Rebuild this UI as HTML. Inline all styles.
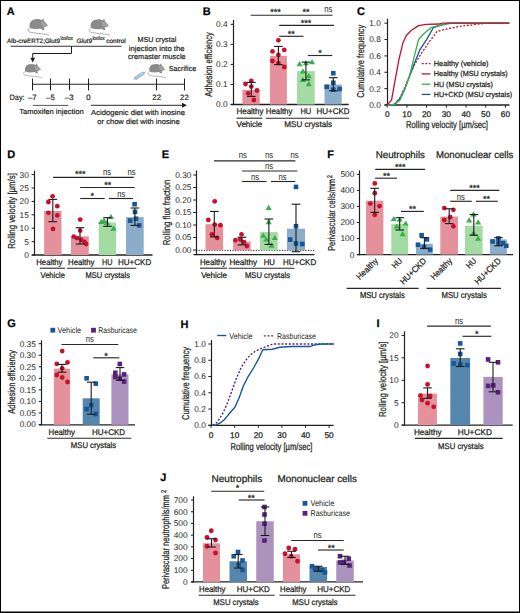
<!DOCTYPE html><html><head><meta charset="utf-8"><style>html,body{margin:0;padding:0;background:#fff;overflow:hidden}svg{display:block}</style></head><body><svg width="520" height="613" viewBox="0 0 520 613" font-family='"Liberation Sans", sans-serif' fill="#231f20">
<style>text{stroke:#231f20;stroke-width:0.25px;text-rendering:geometricPrecision}text.st,text.tk{stroke:none}.pa text{stroke-width:0.2px}</style>
<rect x="0" y="0" width="520" height="613" fill="#fff"/>
<g class="pa">
<text x="6.80" y="15.20" font-size="11" fill="#000" font-weight="bold">A</text>
<g transform="translate(24.90 14.80) scale(0.9)"><path d="M6 14.4C3.2 15.2 2.4 18.2 5.5 19.2C10 20.6 19 20.6 26.8 22.4" fill="none" stroke="#8c8c8c" stroke-width="0.8"/><path d="M5.8 14.6C4.4 11.6 5.4 7.2 9.4 5.6C13 4.3 16.6 4.6 18.8 6L19.9 4.3L20.9 4.9L21.2 6.8C22.8 8.2 24.4 10.2 25.6 12C24.8 12.9 23 13.4 21 13.8L21.8 16.4L20.4 17.1L17.4 15.2C13.6 16 9 16.2 5.8 14.6Z" fill="#8a8a8a"/><path d="M18 7.4C20 6.8 23 8.8 24.9 11.7C23.8 12.6 21.6 13.1 19.3 12.9C17.9 11.3 17.4 8.7 18 7.4Z" fill="#a0a0a0"/></g>
<g transform="translate(86.00 15.10) scale(0.89)"><path d="M6 14.4C3.2 15.2 2.4 18.2 5.5 19.2C10 20.6 19 20.6 26.8 22.4" fill="none" stroke="#8c8c8c" stroke-width="0.8"/><path d="M5.8 14.6C4.4 11.6 5.4 7.2 9.4 5.6C13 4.3 16.6 4.6 18.8 6L19.9 4.3L20.9 4.9L21.2 6.8C22.8 8.2 24.4 10.2 25.6 12C24.8 12.9 23 13.4 21 13.8L21.8 16.4L20.4 17.1L17.4 15.2C13.6 16 9 16.2 5.8 14.6Z" fill="#8a8a8a"/><path d="M18 7.4C20 6.8 23 8.8 24.9 11.7C23.8 12.6 21.6 13.1 19.3 12.9C17.9 11.3 17.4 8.7 18 7.4Z" fill="#a0a0a0"/></g>
<g transform="translate(20.90 60.20) scale(0.78)"><path d="M6 14.4C3.2 15.2 2.4 18.2 5.5 19.2C10 20.6 19 20.6 26.8 22.4" fill="none" stroke="#8c8c8c" stroke-width="0.8"/><path d="M5.8 14.6C4.4 11.6 5.4 7.2 9.4 5.6C13 4.3 16.6 4.6 18.8 6L19.9 4.3L20.9 4.9L21.2 6.8C22.8 8.2 24.4 10.2 25.6 12C24.8 12.9 23 13.4 21 13.8L21.8 16.4L20.4 17.1L17.4 15.2C13.6 16 9 16.2 5.8 14.6Z" fill="#8a8a8a"/><path d="M18 7.4C20 6.8 23 8.8 24.9 11.7C23.8 12.6 21.6 13.1 19.3 12.9C17.9 11.3 17.4 8.7 18 7.4Z" fill="#a0a0a0"/></g>
<g transform="translate(145.20 60.20) scale(0.78)"><path d="M6 14.4C3.2 15.2 2.4 18.2 5.5 19.2C10 20.6 19 20.6 26.8 22.4" fill="none" stroke="#8c8c8c" stroke-width="0.8"/><path d="M5.8 14.6C4.4 11.6 5.4 7.2 9.4 5.6C13 4.3 16.6 4.6 18.8 6L19.9 4.3L20.9 4.9L21.2 6.8C22.8 8.2 24.4 10.2 25.6 12C24.8 12.9 23 13.4 21 13.8L21.8 16.4L20.4 17.1L17.4 15.2C13.6 16 9 16.2 5.8 14.6Z" fill="#8a8a8a"/><path d="M18 7.4C20 6.8 23 8.8 24.9 11.7C23.8 12.6 21.6 13.1 19.3 12.9C17.9 11.3 17.4 8.7 18 7.4Z" fill="#a0a0a0"/></g>
<text x="7.10" y="43.40" font-size="6.3" textLength="52.90" lengthAdjust="spacingAndGlyphs">Alb-creERT2;Glut9</text>
<text x="60.60" y="40.30" font-size="5.6" textLength="12.20" lengthAdjust="spacingAndGlyphs">lox/lox</text>
<text x="76.50" y="43.40" font-size="6.3" font-style="italic" textLength="15.50" lengthAdjust="spacingAndGlyphs">Glut9</text>
<text x="92.40" y="40.30" font-size="5.6" textLength="12.20" lengthAdjust="spacingAndGlyphs">lox/lox</text>
<text x="106.20" y="43.40" font-size="6.3" textLength="19.60" lengthAdjust="spacingAndGlyphs">control</text>
<line x1="10.60" y1="46.20" x2="121.50" y2="46.20" stroke="#333" stroke-width="1.1" />
<path d="M71.5 46.2V53.5H32.7V59" fill="none" stroke="#231f20" stroke-width="1"/>
<path d="M30.3 57.8L35.1 57.8L32.7 62.4Z" fill="#231f20"/>
<text x="156.90" y="42.30" font-size="7.3" text-anchor="middle" textLength="38.80" lengthAdjust="spacingAndGlyphs">MSU crystal</text>
<text x="156.70" y="50.70" font-size="7.3" text-anchor="middle" textLength="55.80" lengthAdjust="spacingAndGlyphs">injection into the</text>
<text x="156.75" y="59.20" font-size="7.3" text-anchor="middle" textLength="57.70" lengthAdjust="spacingAndGlyphs">cremaster muscle</text>
<text x="182.50" y="71.30" font-size="7.3" text-anchor="middle" textLength="27.40" lengthAdjust="spacingAndGlyphs">Sacrifice</text>
<g transform="translate(133.6 79.6) rotate(-33)"><line x1="0" y1="0" x2="2.2" y2="0" stroke="#7f9fc2" stroke-width="0.9"/><line x1="2.2" y1="-1.8" x2="2.2" y2="1.8" stroke="#7f9fc2" stroke-width="0.8"/><rect x="2.6" y="-1.3" width="9.6" height="2.6" fill="#b8d0e8" stroke="#7f9fc2" stroke-width="0.6"/><line x1="4.5" y1="-1.3" x2="4.5" y2="0.3" stroke="#7f9fc2" stroke-width="0.4"/><line x1="6.5" y1="-1.3" x2="6.5" y2="0.3" stroke="#7f9fc2" stroke-width="0.4"/><line x1="8.5" y1="-1.3" x2="8.5" y2="0.3" stroke="#7f9fc2" stroke-width="0.4"/><line x1="12.2" y1="0" x2="14.8" y2="0" stroke="#7f9fc2" stroke-width="0.6"/></g>
<line x1="32.30" y1="84.30" x2="184.40" y2="84.30" stroke="#2a2a2a" stroke-width="1.1" />
<line x1="32.50" y1="78.50" x2="32.50" y2="90.40" stroke="#231f20" stroke-width="1" />
<line x1="50.50" y1="78.50" x2="50.50" y2="90.40" stroke="#231f20" stroke-width="1" />
<line x1="69.50" y1="78.50" x2="69.50" y2="90.40" stroke="#231f20" stroke-width="1" />
<line x1="88.50" y1="78.50" x2="88.50" y2="90.40" stroke="#231f20" stroke-width="1" />
<line x1="156.50" y1="78.50" x2="156.50" y2="90.40" stroke="#231f20" stroke-width="1" />
<line x1="184.50" y1="78.50" x2="184.50" y2="90.40" stroke="#231f20" stroke-width="1" />
<text x="9.60" y="100.00" font-size="7.8" textLength="15.00" lengthAdjust="spacingAndGlyphs">Day:</text>
<text x="32.30" y="100.00" font-size="7.8" text-anchor="middle">–7</text>
<text x="50.40" y="100.00" font-size="7.8" text-anchor="middle">–5</text>
<text x="69.20" y="100.00" font-size="7.8" text-anchor="middle">–3</text>
<text x="88.50" y="100.00" font-size="7.8" text-anchor="middle">0</text>
<text x="156.70" y="100.00" font-size="7.8" text-anchor="middle">22</text>
<text x="184.40" y="100.00" font-size="7.8" text-anchor="middle">22</text>
<line x1="32.70" y1="105.40" x2="68.30" y2="105.40" stroke="#444" stroke-width="0.9" />
<text x="51.45" y="114.40" font-size="7.3" text-anchor="middle" textLength="64.50" lengthAdjust="spacingAndGlyphs">Tamoxifen injection</text>
<line x1="91.00" y1="105.30" x2="183.00" y2="105.30" stroke="#2a2a2a" stroke-width="1" />
<path d="M182 102.8L187 105.3L182 107.8Z" fill="#231f20"/>
<text x="138.10" y="115.00" font-size="7.3" text-anchor="middle" textLength="94.00" lengthAdjust="spacingAndGlyphs">Acidogenic diet with inosine</text>
<text x="138.55" y="124.00" font-size="7.3" text-anchor="middle" textLength="82.50" lengthAdjust="spacingAndGlyphs">or chow diet with inosine</text>
</g>
<text x="202.80" y="15.40" font-size="11" fill="#000" font-weight="bold">B</text>
<line x1="233.50" y1="19.90" x2="233.50" y2="105.10" stroke="#231f20" stroke-width="1.2" />
<line x1="230.60" y1="104.50" x2="233.40" y2="104.50" stroke="#231f20" stroke-width="1" />
<text x="227.60" y="107.40" font-size="8.3" text-anchor="end" class="tk">0.0</text>
<line x1="230.60" y1="84.45" x2="233.40" y2="84.45" stroke="#231f20" stroke-width="1" />
<text x="227.60" y="87.35" font-size="8.3" text-anchor="end" class="tk">0.1</text>
<line x1="230.60" y1="64.40" x2="233.40" y2="64.40" stroke="#231f20" stroke-width="1" />
<text x="227.60" y="67.30" font-size="8.3" text-anchor="end" class="tk">0.2</text>
<line x1="230.60" y1="44.35" x2="233.40" y2="44.35" stroke="#231f20" stroke-width="1" />
<text x="227.60" y="47.25" font-size="8.3" text-anchor="end" class="tk">0.3</text>
<line x1="230.60" y1="24.30" x2="233.40" y2="24.30" stroke="#231f20" stroke-width="1" />
<text x="227.60" y="27.20" font-size="8.3" text-anchor="end" class="tk">0.4</text>
<line x1="230.80" y1="104.50" x2="348.70" y2="104.50" stroke="#231f20" stroke-width="1.35" />
<text x="212.30" y="64.50" font-size="10" text-anchor="middle" textLength="64.30" lengthAdjust="spacingAndGlyphs" transform="rotate(-90 212.30 64.50)">Adhesion efficiency</text>
<rect x="242.40" y="89.90" width="17.40" height="14.60" fill="#e5919b"/>
<rect x="269.90" y="55.80" width="17.00" height="48.70" fill="#e5919b"/>
<rect x="297.00" y="71.10" width="17.70" height="33.40" fill="#a3dba3"/>
<rect x="324.50" y="84.60" width="17.20" height="19.90" fill="#8cadca"/>
<circle cx="251.30" cy="80.90" r="2.4" fill="#c8102e"/>
<circle cx="245.50" cy="84.00" r="2.4" fill="#c8102e"/>
<circle cx="251.30" cy="86.60" r="2.4" fill="#c8102e"/>
<circle cx="257.00" cy="90.50" r="2.4" fill="#c8102e"/>
<circle cx="248.20" cy="93.30" r="2.4" fill="#c8102e"/>
<circle cx="253.90" cy="100.00" r="2.4" fill="#c8102e"/>
<circle cx="278.40" cy="40.30" r="2.4" fill="#c8102e"/>
<circle cx="272.50" cy="51.40" r="2.4" fill="#c8102e"/>
<circle cx="284.30" cy="49.90" r="2.4" fill="#c8102e"/>
<circle cx="278.40" cy="55.00" r="2.4" fill="#c8102e"/>
<circle cx="272.50" cy="61.00" r="2.4" fill="#c8102e"/>
<circle cx="278.40" cy="63.10" r="2.4" fill="#c8102e"/>
<circle cx="284.30" cy="67.00" r="2.4" fill="#c8102e"/>
<path d="M299.50 61.00L302.58 66.18L296.42 66.18Z" fill="#34b14a"/>
<path d="M305.90 60.10L308.98 65.28L302.82 65.28Z" fill="#34b14a"/>
<path d="M312.00 59.00L315.08 64.18L308.92 64.18Z" fill="#34b14a"/>
<path d="M302.90 68.30L305.98 73.48L299.82 73.48Z" fill="#34b14a"/>
<path d="M308.80 73.00L311.88 78.18L305.72 78.18Z" fill="#34b14a"/>
<path d="M302.90 76.70L305.98 81.88L299.82 81.88Z" fill="#34b14a"/>
<path d="M308.80 81.10L311.88 86.28L305.72 86.28Z" fill="#34b14a"/>
<rect x="331.00" y="70.90" width="4.60" height="4.60" fill="#175796"/>
<rect x="331.00" y="80.50" width="4.60" height="4.60" fill="#175796"/>
<rect x="324.40" y="84.50" width="4.60" height="4.60" fill="#175796"/>
<rect x="337.30" y="86.70" width="4.60" height="4.60" fill="#175796"/>
<rect x="331.00" y="87.40" width="4.60" height="4.60" fill="#175796"/>
<line x1="251.30" y1="82.40" x2="251.30" y2="96.40" stroke="#1a1a1a" stroke-width="1.1" />
<line x1="247.00" y1="82.40" x2="255.60" y2="82.40" stroke="#1a1a1a" stroke-width="1.1" />
<line x1="247.00" y1="96.40" x2="255.60" y2="96.40" stroke="#1a1a1a" stroke-width="1.1" />
<line x1="278.40" y1="46.40" x2="278.40" y2="64.60" stroke="#1a1a1a" stroke-width="1.1" />
<line x1="274.10" y1="46.40" x2="282.70" y2="46.40" stroke="#1a1a1a" stroke-width="1.1" />
<line x1="274.10" y1="64.60" x2="282.70" y2="64.60" stroke="#1a1a1a" stroke-width="1.1" />
<line x1="305.90" y1="62.10" x2="305.90" y2="79.90" stroke="#1a1a1a" stroke-width="1.1" />
<line x1="301.60" y1="62.10" x2="310.20" y2="62.10" stroke="#1a1a1a" stroke-width="1.1" />
<line x1="301.60" y1="79.90" x2="310.20" y2="79.90" stroke="#1a1a1a" stroke-width="1.1" />
<line x1="333.30" y1="77.70" x2="333.30" y2="90.80" stroke="#1a1a1a" stroke-width="1.1" />
<line x1="329.00" y1="77.70" x2="337.60" y2="77.70" stroke="#1a1a1a" stroke-width="1.1" />
<line x1="329.00" y1="90.80" x2="337.60" y2="90.80" stroke="#1a1a1a" stroke-width="1.1" />
<line x1="250.70" y1="15.20" x2="332.50" y2="15.20" stroke="#2a2a2a" stroke-width="1.15" />
<text x="275.50" y="15.05" font-size="9" text-anchor="middle">***</text>
<text x="306.10" y="15.05" font-size="9" text-anchor="middle">**</text>
<text x="328.30" y="12.32" font-size="9.4" text-anchor="middle" class="tk" textLength="8.10" lengthAdjust="spacingAndGlyphs">ns</text>
<line x1="279.20" y1="25.40" x2="334.00" y2="25.40" stroke="#2a2a2a" stroke-width="1.15" />
<text x="306.10" y="26.05" font-size="9" text-anchor="middle">***</text>
<line x1="279.20" y1="36.30" x2="303.50" y2="36.30" stroke="#2a2a2a" stroke-width="1.15" />
<text x="291.30" y="37.05" font-size="9" text-anchor="middle">**</text>
<line x1="307.90" y1="55.50" x2="332.30" y2="55.50" stroke="#2a2a2a" stroke-width="1.15" />
<text x="319.90" y="56.35" font-size="9" text-anchor="middle">*</text>
<text x="250.00" y="114.00" font-size="8.3" text-anchor="middle" textLength="27.00" lengthAdjust="spacingAndGlyphs">Healthy</text>
<text x="279.10" y="114.00" font-size="8.3" text-anchor="middle" textLength="26.60" lengthAdjust="spacingAndGlyphs">Healthy</text>
<text x="305.85" y="114.00" font-size="8.3" text-anchor="middle" textLength="10.90" lengthAdjust="spacingAndGlyphs">HU</text>
<text x="333.10" y="114.00" font-size="8.3" text-anchor="middle" textLength="33.00" lengthAdjust="spacingAndGlyphs">HU+CKD</text>
<line x1="236.50" y1="118.20" x2="262.30" y2="118.20" stroke="#2a2a2a" stroke-width="1.1" />
<line x1="265.80" y1="118.20" x2="349.20" y2="118.20" stroke="#2a2a2a" stroke-width="1.1" />
<text x="249.40" y="127.30" font-size="8.3" text-anchor="middle" textLength="25.80" lengthAdjust="spacingAndGlyphs">Vehicle</text>
<text x="308.15" y="127.30" font-size="8.3" text-anchor="middle" textLength="47.70" lengthAdjust="spacingAndGlyphs">MSU crystals</text>
<text x="356.90" y="14.80" font-size="11" fill="#000" font-weight="bold">C</text>
<line x1="387.50" y1="18.70" x2="387.50" y2="105.60" stroke="#231f20" stroke-width="1.2" />
<line x1="384.40" y1="105.00" x2="387.20" y2="105.00" stroke="#231f20" stroke-width="1" />
<text x="380.80" y="107.90" font-size="8.3" text-anchor="end" class="tk">0.0</text>
<line x1="384.40" y1="88.64" x2="387.20" y2="88.64" stroke="#231f20" stroke-width="1" />
<text x="380.80" y="91.54" font-size="8.3" text-anchor="end" class="tk">0.2</text>
<line x1="384.40" y1="72.28" x2="387.20" y2="72.28" stroke="#231f20" stroke-width="1" />
<text x="380.80" y="75.18" font-size="8.3" text-anchor="end" class="tk">0.4</text>
<line x1="384.40" y1="55.92" x2="387.20" y2="55.92" stroke="#231f20" stroke-width="1" />
<text x="380.80" y="58.82" font-size="8.3" text-anchor="end" class="tk">0.6</text>
<line x1="384.40" y1="39.56" x2="387.20" y2="39.56" stroke="#231f20" stroke-width="1" />
<text x="380.80" y="42.46" font-size="8.3" text-anchor="end" class="tk">0.8</text>
<line x1="384.40" y1="23.20" x2="387.20" y2="23.20" stroke="#231f20" stroke-width="1" />
<text x="380.80" y="26.10" font-size="8.3" text-anchor="end" class="tk">1.0</text>
<line x1="384.60" y1="105.00" x2="509.50" y2="105.00" stroke="#231f20" stroke-width="1.35" />
<line x1="387.20" y1="105.00" x2="387.20" y2="107.60" stroke="#231f20" stroke-width="1" />
<text x="387.20" y="116.70" font-size="8.3" text-anchor="middle">0</text>
<line x1="406.90" y1="105.00" x2="406.90" y2="107.60" stroke="#231f20" stroke-width="1" />
<text x="406.90" y="116.70" font-size="8.3" text-anchor="middle">10</text>
<line x1="426.60" y1="105.00" x2="426.60" y2="107.60" stroke="#231f20" stroke-width="1" />
<text x="426.60" y="116.70" font-size="8.3" text-anchor="middle">20</text>
<line x1="446.30" y1="105.00" x2="446.30" y2="107.60" stroke="#231f20" stroke-width="1" />
<text x="446.30" y="116.70" font-size="8.3" text-anchor="middle">30</text>
<line x1="466.00" y1="105.00" x2="466.00" y2="107.60" stroke="#231f20" stroke-width="1" />
<text x="466.00" y="116.70" font-size="8.3" text-anchor="middle">40</text>
<line x1="485.70" y1="105.00" x2="485.70" y2="107.60" stroke="#231f20" stroke-width="1" />
<text x="485.70" y="116.70" font-size="8.3" text-anchor="middle">50</text>
<line x1="505.40" y1="105.00" x2="505.40" y2="107.60" stroke="#231f20" stroke-width="1" />
<text x="505.40" y="116.70" font-size="8.3" text-anchor="middle">60</text>
<text x="447.05" y="128.30" font-size="10" text-anchor="middle" textLength="81.90" lengthAdjust="spacingAndGlyphs">Rolling velocity [µm/sec]</text>
<text x="364.50" y="61.30" font-size="10" text-anchor="middle" textLength="72.90" lengthAdjust="spacingAndGlyphs" transform="rotate(-90 364.50 61.30)">Cumulative frequency</text>
<path d="M387.20 105.00 L391.14 105.00 L395.08 103.36 L400.00 97.64 L404.93 87.00 L409.86 74.73 L414.78 64.10 L421.08 53.88 L428.57 42.83 L437.04 31.38 L446.89 28.93 L459.11 26.47 L478.81 24.02 L485.70 23.20 L509.34 23.20" fill="none" stroke="#c8102e" stroke-width="1.3" stroke-linejoin="round" stroke-dasharray="2 1.6"/>
<path d="M387.20 105.00 L392.12 105.00 L395.08 104.18 L400.00 98.46 L404.93 88.64 L409.86 75.55 L414.78 62.46 L419.70 50.19 L426.60 39.56 L433.30 27.70 L439.40 25.65 L448.27 23.20 L509.34 23.20" fill="none" stroke="#175796" stroke-width="1.3" stroke-linejoin="round"/>
<path d="M387.20 105.00 L392.12 105.00 L395.08 104.18 L400.00 100.09 L404.93 88.64 L409.86 74.73 L414.78 54.28 L418.52 39.56 L424.63 33.02 L430.93 27.70 L438.42 25.65 L446.89 24.02 L452.21 23.20 L509.34 23.20" fill="none" stroke="#34b14a" stroke-width="1.3" stroke-linejoin="round"/>
<path d="M387.20 105.00 L391.53 100.09 L395.08 80.46 L398.82 60.01 L402.96 42.83 L406.31 35.47 L411.23 30.56 L418.52 25.65 L426.01 24.43 L439.40 24.02 L442.36 23.20 L509.34 23.20" fill="none" stroke="#c8102e" stroke-width="1.3" stroke-linejoin="round"/>
<line x1="421.7" y1="63.7" x2="430.4" y2="63.7" stroke="#c8102e" stroke-width="1.3" stroke-dasharray="2 1.6"/>
<text x="433.80" y="66.20" font-size="7.4" textLength="54.70" lengthAdjust="spacingAndGlyphs">Healthy (vehicle)</text>
<line x1="421.7" y1="73.9" x2="430.4" y2="73.9" stroke="#c8102e" stroke-width="1.3"/>
<text x="433.80" y="76.30" font-size="7.4" textLength="73.90" lengthAdjust="spacingAndGlyphs">Healthy (MSU crystals)</text>
<line x1="421.7" y1="84.2" x2="430.4" y2="84.2" stroke="#34b14a" stroke-width="1.3"/>
<text x="433.80" y="86.60" font-size="7.4" textLength="59.10" lengthAdjust="spacingAndGlyphs">HU (MSU crystals)</text>
<line x1="421.7" y1="94.4" x2="430.4" y2="94.4" stroke="#175796" stroke-width="1.3"/>
<text x="433.80" y="96.80" font-size="7.4" textLength="78.30" lengthAdjust="spacingAndGlyphs">HU+CKD (MSU crystals)</text>
<text x="7.30" y="158.00" font-size="11" fill="#000" font-weight="bold">D</text>
<line x1="34.50" y1="170.60" x2="34.50" y2="255.60" stroke="#231f20" stroke-width="1.2" />
<line x1="31.60" y1="255.00" x2="34.40" y2="255.00" stroke="#231f20" stroke-width="1" />
<text x="28.80" y="257.90" font-size="8.3" text-anchor="end" class="tk">0</text>
<line x1="31.60" y1="241.60" x2="34.40" y2="241.60" stroke="#231f20" stroke-width="1" />
<text x="28.80" y="244.50" font-size="8.3" text-anchor="end" class="tk">5</text>
<line x1="31.60" y1="228.20" x2="34.40" y2="228.20" stroke="#231f20" stroke-width="1" />
<text x="28.80" y="231.10" font-size="8.3" text-anchor="end" class="tk">10</text>
<line x1="31.60" y1="214.80" x2="34.40" y2="214.80" stroke="#231f20" stroke-width="1" />
<text x="28.80" y="217.70" font-size="8.3" text-anchor="end" class="tk">15</text>
<line x1="31.60" y1="201.40" x2="34.40" y2="201.40" stroke="#231f20" stroke-width="1" />
<text x="28.80" y="204.30" font-size="8.3" text-anchor="end" class="tk">20</text>
<line x1="31.60" y1="188.00" x2="34.40" y2="188.00" stroke="#231f20" stroke-width="1" />
<text x="28.80" y="190.90" font-size="8.3" text-anchor="end" class="tk">25</text>
<line x1="31.60" y1="174.60" x2="34.40" y2="174.60" stroke="#231f20" stroke-width="1" />
<text x="28.80" y="177.50" font-size="8.3" text-anchor="end" class="tk">30</text>
<line x1="31.80" y1="255.00" x2="152.50" y2="255.00" stroke="#231f20" stroke-width="1.35" />
<text x="14.60" y="211.00" font-size="10" text-anchor="middle" textLength="75.70" lengthAdjust="spacingAndGlyphs" transform="rotate(-90 14.60 211.00)">Rolling velocity [µm/s]</text>
<rect x="44.10" y="210.90" width="17.40" height="44.10" fill="#e5919b"/>
<rect x="71.00" y="236.30" width="17.80" height="18.70" fill="#e5919b"/>
<rect x="98.80" y="222.50" width="17.40" height="32.50" fill="#a3dba3"/>
<rect x="126.00" y="217.10" width="17.70" height="37.90" fill="#8cadca"/>
<circle cx="52.60" cy="196.30" r="2.4" fill="#c8102e"/>
<circle cx="48.40" cy="202.00" r="2.4" fill="#c8102e"/>
<circle cx="57.30" cy="206.20" r="2.4" fill="#c8102e"/>
<circle cx="48.40" cy="212.80" r="2.4" fill="#c8102e"/>
<circle cx="57.30" cy="215.40" r="2.4" fill="#c8102e"/>
<circle cx="53.00" cy="229.00" r="2.4" fill="#c8102e"/>
<circle cx="80.20" cy="219.60" r="2.4" fill="#c8102e"/>
<circle cx="80.20" cy="230.60" r="2.4" fill="#c8102e"/>
<circle cx="73.80" cy="236.60" r="2.4" fill="#c8102e"/>
<circle cx="77.00" cy="238.10" r="2.4" fill="#c8102e"/>
<circle cx="81.30" cy="239.80" r="2.4" fill="#c8102e"/>
<circle cx="84.40" cy="241.90" r="2.4" fill="#c8102e"/>
<circle cx="86.10" cy="244.00" r="2.4" fill="#c8102e"/>
<path d="M111.00 213.90L114.08 219.08L107.92 219.08Z" fill="#34b14a"/>
<path d="M101.30 218.70L104.38 223.88L98.22 223.88Z" fill="#34b14a"/>
<path d="M107.00 219.70L110.08 224.88L103.92 224.88Z" fill="#34b14a"/>
<path d="M113.50 225.50L116.58 230.68L110.42 230.68Z" fill="#34b14a"/>
<path d="M104.00 217.70L107.08 222.88L100.92 222.88Z" fill="#34b14a"/>
<rect x="132.30" y="201.90" width="4.60" height="4.60" fill="#175796"/>
<rect x="132.70" y="209.60" width="4.60" height="4.60" fill="#175796"/>
<rect x="127.90" y="218.30" width="4.60" height="4.60" fill="#175796"/>
<rect x="133.70" y="216.40" width="4.60" height="4.60" fill="#175796"/>
<rect x="136.90" y="223.10" width="4.60" height="4.60" fill="#175796"/>
<line x1="52.80" y1="199.40" x2="52.80" y2="221.70" stroke="#1a1a1a" stroke-width="1.1" />
<line x1="48.50" y1="199.40" x2="57.10" y2="199.40" stroke="#1a1a1a" stroke-width="1.1" />
<line x1="48.50" y1="221.70" x2="57.10" y2="221.70" stroke="#1a1a1a" stroke-width="1.1" />
<line x1="80.00" y1="227.70" x2="80.00" y2="244.00" stroke="#1a1a1a" stroke-width="1.1" />
<line x1="75.70" y1="227.70" x2="84.30" y2="227.70" stroke="#1a1a1a" stroke-width="1.1" />
<line x1="75.70" y1="244.00" x2="84.30" y2="244.00" stroke="#1a1a1a" stroke-width="1.1" />
<line x1="107.50" y1="217.70" x2="107.50" y2="226.30" stroke="#1a1a1a" stroke-width="1.1" />
<line x1="103.20" y1="217.70" x2="111.80" y2="217.70" stroke="#1a1a1a" stroke-width="1.1" />
<line x1="103.20" y1="226.30" x2="111.80" y2="226.30" stroke="#1a1a1a" stroke-width="1.1" />
<line x1="134.90" y1="208.00" x2="134.90" y2="225.40" stroke="#1a1a1a" stroke-width="1.1" />
<line x1="130.60" y1="208.00" x2="139.20" y2="208.00" stroke="#1a1a1a" stroke-width="1.1" />
<line x1="130.60" y1="225.40" x2="139.20" y2="225.40" stroke="#1a1a1a" stroke-width="1.1" />
<line x1="53.00" y1="177.30" x2="133.70" y2="177.30" stroke="#2a2a2a" stroke-width="1.15" />
<text x="80.20" y="177.45" font-size="9" text-anchor="middle">***</text>
<text x="107.00" y="175.32" font-size="9.4" text-anchor="middle" class="tk" textLength="8.10" lengthAdjust="spacingAndGlyphs">ns</text>
<text x="131.50" y="175.32" font-size="9.4" text-anchor="middle" class="tk" textLength="8.10" lengthAdjust="spacingAndGlyphs">ns</text>
<line x1="80.20" y1="187.50" x2="134.60" y2="187.50" stroke="#2a2a2a" stroke-width="1.15" />
<text x="107.70" y="188.45" font-size="9" text-anchor="middle">**</text>
<line x1="80.20" y1="198.50" x2="104.60" y2="198.50" stroke="#2a2a2a" stroke-width="1.15" />
<text x="92.30" y="199.15" font-size="9" text-anchor="middle">*</text>
<line x1="109.00" y1="198.50" x2="133.00" y2="198.50" stroke="#2a2a2a" stroke-width="1.15" />
<text x="121.20" y="197.02" font-size="9.4" text-anchor="middle" class="tk" textLength="8.10" lengthAdjust="spacingAndGlyphs">ns</text>
<text x="49.38" y="264.50" font-size="8.3" text-anchor="middle" textLength="26.25" lengthAdjust="spacingAndGlyphs">Healthy</text>
<text x="81.25" y="264.50" font-size="8.3" text-anchor="middle" textLength="26.50" lengthAdjust="spacingAndGlyphs">Healthy</text>
<text x="107.25" y="264.50" font-size="8.3" text-anchor="middle" textLength="10.50" lengthAdjust="spacingAndGlyphs">HU</text>
<text x="134.62" y="264.50" font-size="8.3" text-anchor="middle" textLength="33.25" lengthAdjust="spacingAndGlyphs">HU+CKD</text>
<line x1="39.80" y1="268.20" x2="65.00" y2="268.20" stroke="#2a2a2a" stroke-width="1.1" />
<line x1="67.00" y1="268.20" x2="136.25" y2="268.20" stroke="#2a2a2a" stroke-width="1.1" />
<text x="52.75" y="277.60" font-size="8.3" text-anchor="middle" textLength="24.50" lengthAdjust="spacingAndGlyphs">Vehicle</text>
<text x="107.75" y="277.60" font-size="8.3" text-anchor="middle" textLength="44.50" lengthAdjust="spacingAndGlyphs">MSU crystals</text>
<text x="161.80" y="158.00" font-size="11" fill="#000" font-weight="bold">E</text>
<line x1="196.50" y1="170.50" x2="196.50" y2="255.20" stroke="#231f20" stroke-width="1.2" />
<line x1="193.20" y1="250.00" x2="196.00" y2="250.00" stroke="#231f20" stroke-width="1" />
<text x="191.40" y="252.90" font-size="8.3" text-anchor="end" class="tk">0.00</text>
<line x1="193.20" y1="237.50" x2="196.00" y2="237.50" stroke="#231f20" stroke-width="1" />
<text x="191.40" y="240.40" font-size="8.3" text-anchor="end" class="tk">0.05</text>
<line x1="193.20" y1="225.00" x2="196.00" y2="225.00" stroke="#231f20" stroke-width="1" />
<text x="191.40" y="227.90" font-size="8.3" text-anchor="end" class="tk">0.10</text>
<line x1="193.20" y1="212.50" x2="196.00" y2="212.50" stroke="#231f20" stroke-width="1" />
<text x="191.40" y="215.40" font-size="8.3" text-anchor="end" class="tk">0.15</text>
<line x1="193.20" y1="200.00" x2="196.00" y2="200.00" stroke="#231f20" stroke-width="1" />
<text x="191.40" y="202.90" font-size="8.3" text-anchor="end" class="tk">0.20</text>
<line x1="193.20" y1="187.50" x2="196.00" y2="187.50" stroke="#231f20" stroke-width="1" />
<text x="191.40" y="190.40" font-size="8.3" text-anchor="end" class="tk">0.25</text>
<line x1="193.20" y1="175.00" x2="196.00" y2="175.00" stroke="#231f20" stroke-width="1" />
<text x="191.40" y="177.90" font-size="8.3" text-anchor="end" class="tk">0.30</text>
<line x1="193.40" y1="254.60" x2="314.50" y2="254.60" stroke="#231f20" stroke-width="1.35" />
<line x1="196.0" y1="250.4" x2="314.5" y2="250.4" stroke="#231f20" stroke-width="1" stroke-dasharray="1.2 1.4"/>
<text x="169.50" y="212.50" font-size="10" text-anchor="middle" textLength="65.60" lengthAdjust="spacingAndGlyphs" transform="rotate(-90 169.50 212.50)">Rolling flux fraction</text>
<rect x="205.50" y="224.20" width="17.60" height="26.20" fill="#e5919b"/>
<rect x="233.10" y="241.50" width="17.60" height="8.90" fill="#e5919b"/>
<rect x="260.00" y="232.10" width="17.70" height="18.30" fill="#a3dba3"/>
<rect x="286.90" y="228.70" width="18.10" height="21.70" fill="#8cadca"/>
<circle cx="214.70" cy="201.30" r="2.4" fill="#c8102e"/>
<circle cx="208.30" cy="219.90" r="2.4" fill="#c8102e"/>
<circle cx="214.70" cy="224.60" r="2.4" fill="#c8102e"/>
<circle cx="220.40" cy="225.20" r="2.4" fill="#c8102e"/>
<circle cx="211.90" cy="234.30" r="2.4" fill="#c8102e"/>
<circle cx="217.20" cy="237.90" r="2.4" fill="#c8102e"/>
<circle cx="241.50" cy="234.40" r="2.4" fill="#c8102e"/>
<circle cx="235.40" cy="240.20" r="2.4" fill="#c8102e"/>
<circle cx="240.20" cy="239.60" r="2.4" fill="#c8102e"/>
<circle cx="244.00" cy="242.10" r="2.4" fill="#c8102e"/>
<circle cx="246.90" cy="246.00" r="2.4" fill="#c8102e"/>
<path d="M268.70 204.70L271.78 209.88L265.62 209.88Z" fill="#34b14a"/>
<path d="M268.70 219.10L271.78 224.28L265.62 224.28Z" fill="#34b14a"/>
<path d="M263.30 232.60L266.38 237.78L260.22 237.78Z" fill="#34b14a"/>
<path d="M274.80 234.90L277.88 240.08L271.72 240.08Z" fill="#34b14a"/>
<path d="M266.20 236.40L269.28 241.58L263.12 241.58Z" fill="#34b14a"/>
<path d="M271.50 242.60L274.58 247.78L268.42 247.78Z" fill="#34b14a"/>
<rect x="293.70" y="184.60" width="4.60" height="4.60" fill="#175796"/>
<rect x="293.70" y="223.90" width="4.60" height="4.60" fill="#175796"/>
<rect x="287.90" y="237.30" width="4.60" height="4.60" fill="#175796"/>
<rect x="293.70" y="241.20" width="4.60" height="4.60" fill="#175796"/>
<rect x="300.00" y="241.70" width="4.60" height="4.60" fill="#175796"/>
<line x1="214.30" y1="211.40" x2="214.30" y2="236.90" stroke="#1a1a1a" stroke-width="1.1" />
<line x1="210.00" y1="211.40" x2="218.60" y2="211.40" stroke="#1a1a1a" stroke-width="1.1" />
<line x1="210.00" y1="236.90" x2="218.60" y2="236.90" stroke="#1a1a1a" stroke-width="1.1" />
<line x1="241.90" y1="237.30" x2="241.90" y2="244.90" stroke="#1a1a1a" stroke-width="1.1" />
<line x1="237.60" y1="237.30" x2="246.20" y2="237.30" stroke="#1a1a1a" stroke-width="1.1" />
<line x1="237.60" y1="244.90" x2="246.20" y2="244.90" stroke="#1a1a1a" stroke-width="1.1" />
<line x1="268.85" y1="219.00" x2="268.85" y2="244.40" stroke="#1a1a1a" stroke-width="1.1" />
<line x1="264.55" y1="219.00" x2="273.15" y2="219.00" stroke="#1a1a1a" stroke-width="1.1" />
<line x1="264.55" y1="244.40" x2="273.15" y2="244.40" stroke="#1a1a1a" stroke-width="1.1" />
<line x1="296.00" y1="204.20" x2="296.00" y2="251.70" stroke="#1a1a1a" stroke-width="1.1" />
<line x1="291.70" y1="204.20" x2="300.30" y2="204.20" stroke="#1a1a1a" stroke-width="1.1" />
<line x1="291.70" y1="251.70" x2="300.30" y2="251.70" stroke="#1a1a1a" stroke-width="1.1" />
<line x1="214.00" y1="160.80" x2="295.40" y2="160.80" stroke="#2a2a2a" stroke-width="1.15" />
<text x="242.70" y="158.42" font-size="9.4" text-anchor="middle" class="tk" textLength="8.10" lengthAdjust="spacingAndGlyphs">ns</text>
<text x="269.00" y="158.42" font-size="9.4" text-anchor="middle" class="tk" textLength="8.10" lengthAdjust="spacingAndGlyphs">ns</text>
<text x="294.60" y="158.42" font-size="9.4" text-anchor="middle" class="tk" textLength="8.10" lengthAdjust="spacingAndGlyphs">ns</text>
<line x1="242.10" y1="171.00" x2="297.30" y2="171.00" stroke="#2a2a2a" stroke-width="1.15" />
<text x="269.00" y="169.32" font-size="9.4" text-anchor="middle" class="tk" textLength="8.10" lengthAdjust="spacingAndGlyphs">ns</text>
<line x1="242.10" y1="181.50" x2="266.50" y2="181.50" stroke="#2a2a2a" stroke-width="1.15" />
<text x="255.00" y="179.52" font-size="9.4" text-anchor="middle" class="tk" textLength="8.10" lengthAdjust="spacingAndGlyphs">ns</text>
<line x1="271.00" y1="181.50" x2="295.40" y2="181.50" stroke="#2a2a2a" stroke-width="1.15" />
<text x="282.50" y="179.52" font-size="9.4" text-anchor="middle" class="tk" textLength="8.10" lengthAdjust="spacingAndGlyphs">ns</text>
<text x="213.12" y="264.50" font-size="8.3" text-anchor="middle" textLength="26.25" lengthAdjust="spacingAndGlyphs">Healthy</text>
<text x="243.25" y="264.50" font-size="8.3" text-anchor="middle" textLength="27.50" lengthAdjust="spacingAndGlyphs">Healthy</text>
<text x="269.38" y="264.50" font-size="8.3" text-anchor="middle" textLength="11.25" lengthAdjust="spacingAndGlyphs">HU</text>
<text x="299.62" y="264.50" font-size="8.3" text-anchor="middle" textLength="33.25" lengthAdjust="spacingAndGlyphs">HU+CKD</text>
<line x1="200.00" y1="268.20" x2="227.00" y2="268.20" stroke="#2a2a2a" stroke-width="1.1" />
<line x1="228.75" y1="268.20" x2="294.50" y2="268.20" stroke="#2a2a2a" stroke-width="1.1" />
<text x="214.12" y="277.60" font-size="8.3" text-anchor="middle" textLength="25.75" lengthAdjust="spacingAndGlyphs">Vehicle</text>
<text x="267.50" y="277.60" font-size="8.3" text-anchor="middle" textLength="45.00" lengthAdjust="spacingAndGlyphs">MSU crystals</text>
<text x="327.30" y="157.60" font-size="11" fill="#000" font-weight="bold">F</text>
<line x1="359.50" y1="170.30" x2="359.50" y2="255.20" stroke="#231f20" stroke-width="1.2" />
<line x1="356.80" y1="254.60" x2="359.60" y2="254.60" stroke="#231f20" stroke-width="1" />
<text x="354.30" y="257.50" font-size="8.3" text-anchor="end" class="tk">0</text>
<line x1="356.80" y1="238.55" x2="359.60" y2="238.55" stroke="#231f20" stroke-width="1" />
<text x="354.30" y="241.45" font-size="8.3" text-anchor="end" class="tk">100</text>
<line x1="356.80" y1="222.50" x2="359.60" y2="222.50" stroke="#231f20" stroke-width="1" />
<text x="354.30" y="225.40" font-size="8.3" text-anchor="end" class="tk">200</text>
<line x1="356.80" y1="206.45" x2="359.60" y2="206.45" stroke="#231f20" stroke-width="1" />
<text x="354.30" y="209.35" font-size="8.3" text-anchor="end" class="tk">300</text>
<line x1="356.80" y1="190.40" x2="359.60" y2="190.40" stroke="#231f20" stroke-width="1" />
<text x="354.30" y="193.30" font-size="8.3" text-anchor="end" class="tk">400</text>
<line x1="356.80" y1="174.35" x2="359.60" y2="174.35" stroke="#231f20" stroke-width="1" />
<text x="354.30" y="177.25" font-size="8.3" text-anchor="end" class="tk">500</text>
<line x1="357.00" y1="254.60" x2="513.00" y2="254.60" stroke="#231f20" stroke-width="1.35" />
<text x="334.60" y="214.90" font-size="10" text-anchor="middle" textLength="71.80" lengthAdjust="spacingAndGlyphs" transform="rotate(-90 334.60 214.90)">Perivascular cells/mm</text>
<text x="332.00" y="176.60" font-size="7" text-anchor="middle" textLength="3.20" lengthAdjust="spacingAndGlyphs" transform="rotate(-90 332.00 176.60)">2</text>
<rect x="366.00" y="200.70" width="17.40" height="53.90" fill="#e5919b"/>
<rect x="391.30" y="224.10" width="16.80" height="30.50" fill="#a3dba3"/>
<rect x="415.90" y="243.70" width="16.90" height="10.90" fill="#8cadca"/>
<rect x="440.30" y="216.60" width="17.70" height="38.00" fill="#e5919b"/>
<rect x="465.00" y="225.70" width="17.60" height="28.90" fill="#a3dba3"/>
<rect x="490.00" y="239.40" width="16.90" height="15.20" fill="#8cadca"/>
<circle cx="374.80" cy="183.40" r="2.4" fill="#c8102e"/>
<circle cx="374.80" cy="193.20" r="2.4" fill="#c8102e"/>
<circle cx="370.30" cy="203.60" r="2.4" fill="#c8102e"/>
<circle cx="379.50" cy="206.10" r="2.4" fill="#c8102e"/>
<circle cx="374.80" cy="214.80" r="2.4" fill="#c8102e"/>
<path d="M393.80 215.90L396.88 221.08L390.72 221.08Z" fill="#34b14a"/>
<path d="M399.70 216.50L402.78 221.68L396.62 221.68Z" fill="#34b14a"/>
<path d="M405.60 220.40L408.68 225.58L402.52 225.58Z" fill="#34b14a"/>
<path d="M396.80 223.30L399.88 228.48L393.72 228.48Z" fill="#34b14a"/>
<path d="M402.60 231.10L405.68 236.28L399.52 236.28Z" fill="#34b14a"/>
<rect x="419.30" y="232.90" width="4.60" height="4.60" fill="#175796"/>
<rect x="424.60" y="237.10" width="4.60" height="4.60" fill="#175796"/>
<rect x="415.70" y="242.40" width="4.60" height="4.60" fill="#175796"/>
<rect x="427.80" y="247.30" width="4.60" height="4.60" fill="#175796"/>
<rect x="421.70" y="244.70" width="4.60" height="4.60" fill="#175796"/>
<circle cx="444.30" cy="208.10" r="2.4" fill="#c8102e"/>
<circle cx="453.40" cy="209.80" r="2.4" fill="#c8102e"/>
<circle cx="450.20" cy="217.20" r="2.4" fill="#c8102e"/>
<circle cx="444.30" cy="220.00" r="2.4" fill="#c8102e"/>
<circle cx="453.40" cy="226.30" r="2.4" fill="#c8102e"/>
<path d="M473.50 211.20L476.58 216.38L470.42 216.38Z" fill="#34b14a"/>
<path d="M469.20 217.20L472.28 222.38L466.12 222.38Z" fill="#34b14a"/>
<path d="M478.10 219.20L481.18 224.38L475.02 224.38Z" fill="#34b14a"/>
<path d="M473.50 230.20L476.58 235.38L470.42 235.38Z" fill="#34b14a"/>
<path d="M478.10 235.60L481.18 240.78L475.02 240.78Z" fill="#34b14a"/>
<rect x="496.10" y="236.10" width="4.60" height="4.60" fill="#175796"/>
<rect x="490.20" y="239.20" width="4.60" height="4.60" fill="#175796"/>
<rect x="500.80" y="240.90" width="4.60" height="4.60" fill="#175796"/>
<rect x="504.00" y="243.50" width="4.60" height="4.60" fill="#175796"/>
<rect x="496.10" y="240.70" width="4.60" height="4.60" fill="#175796"/>
<line x1="374.70" y1="188.30" x2="374.70" y2="212.40" stroke="#1a1a1a" stroke-width="1.1" />
<line x1="370.40" y1="188.30" x2="379.00" y2="188.30" stroke="#1a1a1a" stroke-width="1.1" />
<line x1="370.40" y1="212.40" x2="379.00" y2="212.40" stroke="#1a1a1a" stroke-width="1.1" />
<line x1="399.70" y1="217.70" x2="399.70" y2="230.00" stroke="#1a1a1a" stroke-width="1.1" />
<line x1="395.40" y1="217.70" x2="404.00" y2="217.70" stroke="#1a1a1a" stroke-width="1.1" />
<line x1="395.40" y1="230.00" x2="404.00" y2="230.00" stroke="#1a1a1a" stroke-width="1.1" />
<line x1="424.40" y1="237.70" x2="424.40" y2="248.30" stroke="#1a1a1a" stroke-width="1.1" />
<line x1="420.10" y1="237.70" x2="428.70" y2="237.70" stroke="#1a1a1a" stroke-width="1.1" />
<line x1="420.10" y1="248.30" x2="428.70" y2="248.30" stroke="#1a1a1a" stroke-width="1.1" />
<line x1="449.20" y1="208.80" x2="449.20" y2="223.60" stroke="#1a1a1a" stroke-width="1.1" />
<line x1="444.90" y1="208.80" x2="453.50" y2="208.80" stroke="#1a1a1a" stroke-width="1.1" />
<line x1="444.90" y1="223.60" x2="453.50" y2="223.60" stroke="#1a1a1a" stroke-width="1.1" />
<line x1="473.80" y1="214.50" x2="473.80" y2="235.20" stroke="#1a1a1a" stroke-width="1.1" />
<line x1="469.50" y1="214.50" x2="478.10" y2="214.50" stroke="#1a1a1a" stroke-width="1.1" />
<line x1="469.50" y1="235.20" x2="478.10" y2="235.20" stroke="#1a1a1a" stroke-width="1.1" />
<line x1="498.50" y1="237.70" x2="498.50" y2="245.80" stroke="#1a1a1a" stroke-width="1.1" />
<line x1="494.20" y1="237.70" x2="502.80" y2="237.70" stroke="#1a1a1a" stroke-width="1.1" />
<line x1="494.20" y1="245.80" x2="502.80" y2="245.80" stroke="#1a1a1a" stroke-width="1.1" />
<text x="400.35" y="157.80" font-size="9.8" text-anchor="middle" textLength="49.30" lengthAdjust="spacingAndGlyphs">Neutrophils</text>
<text x="474.70" y="157.80" font-size="9.8" text-anchor="middle" textLength="77.40" lengthAdjust="spacingAndGlyphs">Mononuclear cells</text>
<line x1="375.20" y1="169.40" x2="425.10" y2="169.40" stroke="#2a2a2a" stroke-width="1.15" />
<text x="400.30" y="169.95" font-size="9" text-anchor="middle">***</text>
<line x1="375.20" y1="178.20" x2="397.10" y2="178.20" stroke="#2a2a2a" stroke-width="1.15" />
<text x="386.40" y="179.15" font-size="9" text-anchor="middle">**</text>
<line x1="401.00" y1="211.40" x2="423.80" y2="211.40" stroke="#2a2a2a" stroke-width="1.15" />
<text x="412.40" y="212.45" font-size="9" text-anchor="middle">**</text>
<line x1="450.20" y1="190.30" x2="499.30" y2="190.30" stroke="#2a2a2a" stroke-width="1.15" />
<text x="474.50" y="191.05" font-size="9" text-anchor="middle">***</text>
<line x1="450.20" y1="201.30" x2="471.80" y2="201.30" stroke="#2a2a2a" stroke-width="1.15" />
<text x="460.80" y="199.52" font-size="9.4" text-anchor="middle" class="tk" textLength="8.10" lengthAdjust="spacingAndGlyphs">ns</text>
<line x1="476.00" y1="201.30" x2="497.80" y2="201.30" stroke="#2a2a2a" stroke-width="1.15" />
<text x="486.60" y="202.05" font-size="9" text-anchor="middle">**</text>
<text x="378.60" y="261.50" font-size="8.6" text-anchor="end" textLength="26.50" lengthAdjust="spacingAndGlyphs" transform="rotate(-45 378.60 261.50)">Healthy</text>
<text x="402.60" y="261.50" font-size="8.6" text-anchor="end" textLength="10.50" lengthAdjust="spacingAndGlyphs" transform="rotate(-45 402.60 261.50)">HU</text>
<text x="426.90" y="261.50" font-size="8.6" text-anchor="end" textLength="33.20" lengthAdjust="spacingAndGlyphs" transform="rotate(-45 426.90 261.50)">HU+CKD</text>
<text x="452.80" y="261.50" font-size="8.6" text-anchor="end" textLength="26.50" lengthAdjust="spacingAndGlyphs" transform="rotate(-45 452.80 261.50)">Healthy</text>
<text x="476.90" y="261.50" font-size="8.6" text-anchor="end" textLength="10.50" lengthAdjust="spacingAndGlyphs" transform="rotate(-45 476.90 261.50)">HU</text>
<text x="501.50" y="261.50" font-size="8.6" text-anchor="end" textLength="33.20" lengthAdjust="spacingAndGlyphs" transform="rotate(-45 501.50 261.50)">HU+CKD</text>
<line x1="346.60" y1="288.40" x2="418.70" y2="288.40" stroke="#2a2a2a" stroke-width="1.1" />
<line x1="426.50" y1="288.40" x2="501.00" y2="288.40" stroke="#2a2a2a" stroke-width="1.1" />
<text x="382.40" y="297.80" font-size="8.6" text-anchor="middle" textLength="45.00" lengthAdjust="spacingAndGlyphs">MSU crystals</text>
<text x="464.20" y="297.80" font-size="8.6" text-anchor="middle" textLength="45.40" lengthAdjust="spacingAndGlyphs">MSU crystals</text>
<text x="7.20" y="327.20" font-size="11" fill="#000" font-weight="bold">G</text>
<line x1="41.50" y1="340.30" x2="41.50" y2="425.40" stroke="#231f20" stroke-width="1.2" />
<line x1="38.70" y1="424.50" x2="41.50" y2="424.50" stroke="#231f20" stroke-width="1" />
<text x="35.80" y="427.40" font-size="8.3" text-anchor="end" class="tk">0.00</text>
<line x1="38.70" y1="412.95" x2="41.50" y2="412.95" stroke="#231f20" stroke-width="1" />
<text x="35.80" y="415.85" font-size="8.3" text-anchor="end" class="tk">0.05</text>
<line x1="38.70" y1="401.41" x2="41.50" y2="401.41" stroke="#231f20" stroke-width="1" />
<text x="35.80" y="404.31" font-size="8.3" text-anchor="end" class="tk">0.10</text>
<line x1="38.70" y1="389.87" x2="41.50" y2="389.87" stroke="#231f20" stroke-width="1" />
<text x="35.80" y="392.76" font-size="8.3" text-anchor="end" class="tk">0.15</text>
<line x1="38.70" y1="378.32" x2="41.50" y2="378.32" stroke="#231f20" stroke-width="1" />
<text x="35.80" y="381.22" font-size="8.3" text-anchor="end" class="tk">0.20</text>
<line x1="38.70" y1="366.77" x2="41.50" y2="366.77" stroke="#231f20" stroke-width="1" />
<text x="35.80" y="369.67" font-size="8.3" text-anchor="end" class="tk">0.25</text>
<line x1="38.70" y1="355.23" x2="41.50" y2="355.23" stroke="#231f20" stroke-width="1" />
<text x="35.80" y="358.13" font-size="8.3" text-anchor="end" class="tk">0.30</text>
<line x1="38.70" y1="343.69" x2="41.50" y2="343.69" stroke="#231f20" stroke-width="1" />
<text x="35.80" y="346.58" font-size="8.3" text-anchor="end" class="tk">0.35</text>
<line x1="38.90" y1="424.80" x2="135.00" y2="424.80" stroke="#231f20" stroke-width="1.35" />
<text x="15.00" y="381.80" font-size="10" text-anchor="middle" textLength="63.70" lengthAdjust="spacingAndGlyphs" transform="rotate(-90 15.00 381.80)">Adhesion efficiency</text>
<rect x="53.80" y="368.70" width="16.30" height="56.10" fill="#e5919b"/>
<rect x="82.70" y="398.30" width="17.00" height="26.50" fill="#5587ae"/>
<rect x="111.40" y="374.40" width="17.10" height="50.40" fill="#ac93be"/>
<circle cx="62.20" cy="351.10" r="2.4" fill="#c8102e"/>
<circle cx="56.80" cy="363.80" r="2.4" fill="#c8102e"/>
<circle cx="67.50" cy="362.40" r="2.4" fill="#c8102e"/>
<circle cx="62.20" cy="368.30" r="2.4" fill="#c8102e"/>
<circle cx="56.80" cy="375.00" r="2.4" fill="#c8102e"/>
<circle cx="62.20" cy="377.50" r="2.4" fill="#c8102e"/>
<circle cx="67.50" cy="382.00" r="2.4" fill="#c8102e"/>
<rect x="84.30" y="376.00" width="4.60" height="4.60" fill="#175796"/>
<rect x="93.50" y="381.30" width="4.60" height="4.60" fill="#175796"/>
<rect x="89.00" y="402.80" width="4.60" height="4.60" fill="#175796"/>
<rect x="84.30" y="406.70" width="4.60" height="4.60" fill="#175796"/>
<rect x="93.50" y="411.60" width="4.60" height="4.60" fill="#175796"/>
<rect x="117.50" y="361.70" width="4.60" height="4.60" fill="#55237c"/>
<rect x="113.00" y="370.50" width="4.60" height="4.60" fill="#55237c"/>
<rect x="121.80" y="372.10" width="4.60" height="4.60" fill="#55237c"/>
<rect x="117.50" y="376.40" width="4.60" height="4.60" fill="#55237c"/>
<rect x="121.80" y="379.30" width="4.60" height="4.60" fill="#55237c"/>
<rect x="113.00" y="374.70" width="4.60" height="4.60" fill="#55237c"/>
<line x1="62.00" y1="364.40" x2="62.00" y2="372.20" stroke="#1a1a1a" stroke-width="1.1" />
<line x1="57.70" y1="364.40" x2="66.30" y2="364.40" stroke="#1a1a1a" stroke-width="1.1" />
<line x1="57.70" y1="372.20" x2="66.30" y2="372.20" stroke="#1a1a1a" stroke-width="1.1" />
<line x1="91.20" y1="382.20" x2="91.20" y2="414.30" stroke="#1a1a1a" stroke-width="1.1" />
<line x1="86.90" y1="382.20" x2="95.50" y2="382.20" stroke="#1a1a1a" stroke-width="1.1" />
<line x1="86.90" y1="414.30" x2="95.50" y2="414.30" stroke="#1a1a1a" stroke-width="1.1" />
<line x1="120.00" y1="367.60" x2="120.00" y2="380.30" stroke="#1a1a1a" stroke-width="1.1" />
<line x1="115.70" y1="367.60" x2="124.30" y2="367.60" stroke="#1a1a1a" stroke-width="1.1" />
<line x1="115.70" y1="380.30" x2="124.30" y2="380.30" stroke="#1a1a1a" stroke-width="1.1" />
<rect x="50.40" y="327.80" width="4.80" height="4.80" fill="#175796"/>
<text x="69.35" y="333.20" font-size="8.2" text-anchor="middle" class="tk" textLength="23.50" lengthAdjust="spacingAndGlyphs">Vehicle</text>
<rect x="91.10" y="327.80" width="4.80" height="4.80" fill="#55237c"/>
<text x="117.60" y="333.20" font-size="8.2" text-anchor="middle" class="tk" textLength="38.60" lengthAdjust="spacingAndGlyphs">Rasburicase</text>
<line x1="61.50" y1="344.50" x2="118.30" y2="344.50" stroke="#2a2a2a" stroke-width="1.15" />
<text x="89.90" y="342.42" font-size="9.4" text-anchor="middle" class="tk" textLength="8.10" lengthAdjust="spacingAndGlyphs">ns</text>
<line x1="93.20" y1="357.80" x2="119.30" y2="357.80" stroke="#2a2a2a" stroke-width="1.15" />
<text x="106.10" y="358.65" font-size="9" text-anchor="middle">*</text>
<text x="61.75" y="435.00" font-size="8.3" text-anchor="middle" textLength="26.50" lengthAdjust="spacingAndGlyphs">Healthy</text>
<text x="108.50" y="435.00" font-size="8.3" text-anchor="middle" textLength="33.20" lengthAdjust="spacingAndGlyphs">HU+CKD</text>
<line x1="47.30" y1="438.20" x2="131.20" y2="438.20" stroke="#2a2a2a" stroke-width="1.1" />
<text x="93.50" y="448.20" font-size="8.3" text-anchor="middle" textLength="45.30" lengthAdjust="spacingAndGlyphs">MSU crystals</text>
<text x="180.50" y="327.60" font-size="11" fill="#000" font-weight="bold">H</text>
<line x1="211.50" y1="340.10" x2="211.50" y2="425.90" stroke="#231f20" stroke-width="1.2" />
<line x1="208.30" y1="425.30" x2="211.10" y2="425.30" stroke="#231f20" stroke-width="1" />
<text x="205.80" y="428.20" font-size="8.3" text-anchor="end" class="tk">0.0</text>
<line x1="208.30" y1="409.04" x2="211.10" y2="409.04" stroke="#231f20" stroke-width="1" />
<text x="205.80" y="411.94" font-size="8.3" text-anchor="end" class="tk">0.2</text>
<line x1="208.30" y1="392.78" x2="211.10" y2="392.78" stroke="#231f20" stroke-width="1" />
<text x="205.80" y="395.68" font-size="8.3" text-anchor="end" class="tk">0.4</text>
<line x1="208.30" y1="376.52" x2="211.10" y2="376.52" stroke="#231f20" stroke-width="1" />
<text x="205.80" y="379.42" font-size="8.3" text-anchor="end" class="tk">0.6</text>
<line x1="208.30" y1="360.26" x2="211.10" y2="360.26" stroke="#231f20" stroke-width="1" />
<text x="205.80" y="363.16" font-size="8.3" text-anchor="end" class="tk">0.8</text>
<line x1="208.30" y1="344.00" x2="211.10" y2="344.00" stroke="#231f20" stroke-width="1" />
<text x="205.80" y="346.90" font-size="8.3" text-anchor="end" class="tk">1.0</text>
<line x1="208.50" y1="425.30" x2="333.60" y2="425.30" stroke="#231f20" stroke-width="1.35" />
<line x1="211.10" y1="425.30" x2="211.10" y2="427.90" stroke="#231f20" stroke-width="1" />
<text x="211.10" y="437.80" font-size="8.3" text-anchor="middle">0</text>
<line x1="234.70" y1="425.30" x2="234.70" y2="427.90" stroke="#231f20" stroke-width="1" />
<text x="234.70" y="437.80" font-size="8.3" text-anchor="middle">10</text>
<line x1="258.30" y1="425.30" x2="258.30" y2="427.90" stroke="#231f20" stroke-width="1" />
<text x="258.30" y="437.80" font-size="8.3" text-anchor="middle">20</text>
<line x1="281.90" y1="425.30" x2="281.90" y2="427.90" stroke="#231f20" stroke-width="1" />
<text x="281.90" y="437.80" font-size="8.3" text-anchor="middle">30</text>
<line x1="305.50" y1="425.30" x2="305.50" y2="427.90" stroke="#231f20" stroke-width="1" />
<text x="305.50" y="437.80" font-size="8.3" text-anchor="middle">40</text>
<line x1="329.10" y1="425.30" x2="329.10" y2="427.90" stroke="#231f20" stroke-width="1" />
<text x="329.10" y="437.80" font-size="8.3" text-anchor="middle">50</text>
<text x="271.45" y="449.70" font-size="10" text-anchor="middle" textLength="81.90" lengthAdjust="spacingAndGlyphs">Rolling velocity [µm/sec]</text>
<text x="188.90" y="383.50" font-size="10" text-anchor="middle" textLength="73.00" lengthAdjust="spacingAndGlyphs" transform="rotate(-90 188.90 383.50)">Cumulative frequency</text>
<path d="M212.70 425.30 L217.19 422.29 L222.90 413.19 L227.50 402.86 L232.10 390.34 L236.59 377.82 L241.19 367.50 L245.79 360.26 L250.28 354.98 L254.90 351.48 L259.48 349.20 L266.32 346.44 L273.17 344.00 L333.82 344.00" fill="none" stroke="#55237c" stroke-width="1.4" stroke-linejoin="round" stroke-dasharray="2 1.7"/>
<path d="M212.28 425.30 L215.82 424.89 L219.50 423.43 L224.08 420.02 L228.71 414.32 L234.70 407.50 L238.95 398.31 L243.43 385.79 L248.15 376.52 L253.82 367.50 L258.30 359.45 L262.78 349.69 L272.46 349.28 L279.54 347.25 L291.34 346.44 L310.22 346.44 L314.94 344.81 L322.02 344.00 L333.82 344.00" fill="none" stroke="#175796" stroke-width="1.4" stroke-linejoin="round"/>
<line x1="217.2" y1="335.5" x2="226.4" y2="335.5" stroke="#175796" stroke-width="1.4"/>
<text x="240.95" y="338.80" font-size="8.2" text-anchor="middle" class="tk" textLength="23.30" lengthAdjust="spacingAndGlyphs">Vehicle</text>
<line x1="263.8" y1="335.9" x2="273.5" y2="335.9" stroke="#55237c" stroke-width="1.4" stroke-dasharray="2 1.7"/>
<text x="296.50" y="339.00" font-size="8.2" text-anchor="middle" class="tk" textLength="39.00" lengthAdjust="spacingAndGlyphs">Rasburicase</text>
<text x="376.60" y="326.80" font-size="11" fill="#000" font-weight="bold">I</text>
<line x1="404.50" y1="331.30" x2="404.50" y2="425.70" stroke="#231f20" stroke-width="1.2" />
<line x1="401.50" y1="425.20" x2="404.30" y2="425.20" stroke="#231f20" stroke-width="1" />
<text x="398.60" y="428.10" font-size="8.3" text-anchor="end" class="tk">0</text>
<line x1="401.50" y1="402.75" x2="404.30" y2="402.75" stroke="#231f20" stroke-width="1" />
<text x="398.60" y="405.65" font-size="8.3" text-anchor="end" class="tk">5</text>
<line x1="401.50" y1="380.30" x2="404.30" y2="380.30" stroke="#231f20" stroke-width="1" />
<text x="398.60" y="383.20" font-size="8.3" text-anchor="end" class="tk">10</text>
<line x1="401.50" y1="357.85" x2="404.30" y2="357.85" stroke="#231f20" stroke-width="1" />
<text x="398.60" y="360.75" font-size="8.3" text-anchor="end" class="tk">15</text>
<line x1="401.50" y1="335.40" x2="404.30" y2="335.40" stroke="#231f20" stroke-width="1" />
<text x="398.60" y="338.30" font-size="8.3" text-anchor="end" class="tk">20</text>
<line x1="401.70" y1="425.10" x2="512.70" y2="425.10" stroke="#231f20" stroke-width="1.35" />
<text x="385.80" y="379.30" font-size="10" text-anchor="middle" textLength="75.50" lengthAdjust="spacingAndGlyphs" transform="rotate(-90 385.80 379.30)">Rolling velocity [µm/s]</text>
<rect x="418.00" y="393.60" width="18.90" height="31.50" fill="#e5919b"/>
<rect x="450.30" y="358.00" width="19.80" height="67.10" fill="#5587ae"/>
<rect x="483.40" y="376.90" width="19.30" height="48.20" fill="#ac93be"/>
<circle cx="427.60" cy="366.00" r="2.4" fill="#c8102e"/>
<circle cx="427.60" cy="384.40" r="2.4" fill="#c8102e"/>
<circle cx="420.60" cy="395.60" r="2.4" fill="#c8102e"/>
<circle cx="430.20" cy="396.00" r="2.4" fill="#c8102e"/>
<circle cx="427.60" cy="403.20" r="2.4" fill="#c8102e"/>
<circle cx="433.70" cy="406.80" r="2.4" fill="#c8102e"/>
<circle cx="422.00" cy="400.00" r="2.4" fill="#c8102e"/>
<rect x="457.90" y="341.10" width="4.60" height="4.60" fill="#175796"/>
<rect x="457.90" y="351.70" width="4.60" height="4.60" fill="#175796"/>
<rect x="451.30" y="361.20" width="4.60" height="4.60" fill="#175796"/>
<rect x="457.90" y="362.30" width="4.60" height="4.60" fill="#175796"/>
<rect x="465.00" y="362.80" width="4.60" height="4.60" fill="#175796"/>
<rect x="485.80" y="357.10" width="4.60" height="4.60" fill="#55237c"/>
<rect x="495.70" y="360.00" width="4.60" height="4.60" fill="#55237c"/>
<rect x="491.00" y="383.10" width="4.60" height="4.60" fill="#55237c"/>
<rect x="485.80" y="383.60" width="4.60" height="4.60" fill="#55237c"/>
<rect x="495.70" y="390.00" width="4.60" height="4.60" fill="#55237c"/>
<line x1="427.50" y1="387.90" x2="427.50" y2="398.30" stroke="#1a1a1a" stroke-width="1.1" />
<line x1="423.20" y1="387.90" x2="431.80" y2="387.90" stroke="#1a1a1a" stroke-width="1.1" />
<line x1="423.20" y1="398.30" x2="431.80" y2="398.30" stroke="#1a1a1a" stroke-width="1.1" />
<line x1="460.20" y1="348.80" x2="460.20" y2="366.50" stroke="#1a1a1a" stroke-width="1.1" />
<line x1="455.90" y1="348.80" x2="464.50" y2="348.80" stroke="#1a1a1a" stroke-width="1.1" />
<line x1="455.90" y1="366.50" x2="464.50" y2="366.50" stroke="#1a1a1a" stroke-width="1.1" />
<line x1="493.00" y1="362.30" x2="493.00" y2="391.80" stroke="#1a1a1a" stroke-width="1.1" />
<line x1="488.70" y1="362.30" x2="497.30" y2="362.30" stroke="#1a1a1a" stroke-width="1.1" />
<line x1="488.70" y1="391.80" x2="497.30" y2="391.80" stroke="#1a1a1a" stroke-width="1.1" />
<line x1="427.10" y1="326.10" x2="490.90" y2="326.10" stroke="#2a2a2a" stroke-width="1.15" />
<text x="459.00" y="324.42" font-size="9.4" text-anchor="middle" class="tk" textLength="8.10" lengthAdjust="spacingAndGlyphs">ns</text>
<line x1="462.60" y1="336.30" x2="491.40" y2="336.30" stroke="#2a2a2a" stroke-width="1.15" />
<text x="476.70" y="336.95" font-size="9" text-anchor="middle">*</text>
<text x="427.75" y="435.20" font-size="8.3" text-anchor="middle" textLength="27.70" lengthAdjust="spacingAndGlyphs">Healthy</text>
<text x="474.80" y="435.20" font-size="8.3" text-anchor="middle" textLength="34.20" lengthAdjust="spacingAndGlyphs">HU+CKD</text>
<line x1="414.90" y1="438.40" x2="502.70" y2="438.40" stroke="#2a2a2a" stroke-width="1.1" />
<text x="460.85" y="449.40" font-size="8.3" text-anchor="middle" textLength="45.50" lengthAdjust="spacingAndGlyphs">MSU crystals</text>
<text x="160.20" y="481.25" font-size="11" fill="#000" font-weight="bold">J</text>
<line x1="193.50" y1="496.25" x2="193.50" y2="582.50" stroke="#231f20" stroke-width="1.2" />
<line x1="190.95" y1="582.00" x2="193.75" y2="582.00" stroke="#231f20" stroke-width="1" />
<text x="187.60" y="584.90" font-size="8.3" text-anchor="end" class="tk">0</text>
<line x1="190.95" y1="570.29" x2="193.75" y2="570.29" stroke="#231f20" stroke-width="1" />
<text x="187.60" y="573.19" font-size="8.3" text-anchor="end" class="tk">100</text>
<line x1="190.95" y1="558.58" x2="193.75" y2="558.58" stroke="#231f20" stroke-width="1" />
<text x="187.60" y="561.48" font-size="8.3" text-anchor="end" class="tk">200</text>
<line x1="190.95" y1="546.87" x2="193.75" y2="546.87" stroke="#231f20" stroke-width="1" />
<text x="187.60" y="549.77" font-size="8.3" text-anchor="end" class="tk">300</text>
<line x1="190.95" y1="535.16" x2="193.75" y2="535.16" stroke="#231f20" stroke-width="1" />
<text x="187.60" y="538.06" font-size="8.3" text-anchor="end" class="tk">400</text>
<line x1="190.95" y1="523.45" x2="193.75" y2="523.45" stroke="#231f20" stroke-width="1" />
<text x="187.60" y="526.35" font-size="8.3" text-anchor="end" class="tk">500</text>
<line x1="190.95" y1="511.74" x2="193.75" y2="511.74" stroke="#231f20" stroke-width="1" />
<text x="187.60" y="514.64" font-size="8.3" text-anchor="end" class="tk">600</text>
<line x1="190.95" y1="500.03" x2="193.75" y2="500.03" stroke="#231f20" stroke-width="1" />
<text x="187.60" y="502.93" font-size="8.3" text-anchor="end" class="tk">700</text>
<line x1="191.15" y1="581.90" x2="363.00" y2="581.90" stroke="#231f20" stroke-width="1.35" />
<text x="169.30" y="542.00" font-size="10" text-anchor="middle" textLength="94.10" lengthAdjust="spacingAndGlyphs" transform="rotate(-90 169.30 542.00)">Perivascular neutrophils/mm</text>
<text x="165.90" y="491.50" font-size="7" text-anchor="middle" textLength="3.20" lengthAdjust="spacingAndGlyphs" transform="rotate(-90 165.90 491.50)">2</text>
<rect x="203.00" y="543.25" width="17.00" height="38.65" fill="#e5919b"/>
<rect x="229.50" y="561.25" width="17.50" height="20.65" fill="#5587ae"/>
<rect x="256.25" y="521.25" width="17.50" height="60.65" fill="#ac93be"/>
<rect x="283.00" y="554.25" width="17.00" height="27.65" fill="#e5919b"/>
<rect x="309.50" y="567.00" width="17.50" height="14.90" fill="#5587ae"/>
<rect x="336.25" y="560.50" width="17.50" height="21.40" fill="#ac93be"/>
<circle cx="211.25" cy="530.75" r="2.4" fill="#c8102e"/>
<circle cx="207.00" cy="537.50" r="2.4" fill="#c8102e"/>
<circle cx="215.50" cy="540.00" r="2.4" fill="#c8102e"/>
<circle cx="207.00" cy="546.25" r="2.4" fill="#c8102e"/>
<circle cx="215.50" cy="553.00" r="2.4" fill="#c8102e"/>
<rect x="235.70" y="549.70" width="4.60" height="4.60" fill="#175796"/>
<rect x="231.45" y="553.95" width="4.60" height="4.60" fill="#175796"/>
<rect x="240.20" y="558.20" width="4.60" height="4.60" fill="#175796"/>
<rect x="236.45" y="562.70" width="4.60" height="4.60" fill="#175796"/>
<rect x="240.20" y="567.70" width="4.60" height="4.60" fill="#175796"/>
<rect x="262.20" y="504.70" width="4.60" height="4.60" fill="#55237c"/>
<rect x="262.20" y="512.20" width="4.60" height="4.60" fill="#55237c"/>
<rect x="262.20" y="521.45" width="4.60" height="4.60" fill="#55237c"/>
<rect x="262.20" y="538.20" width="4.60" height="4.60" fill="#55237c"/>
<circle cx="288.75" cy="548.00" r="2.4" fill="#c8102e"/>
<circle cx="295.00" cy="549.25" r="2.4" fill="#c8102e"/>
<circle cx="285.00" cy="553.75" r="2.4" fill="#c8102e"/>
<circle cx="291.25" cy="556.25" r="2.4" fill="#c8102e"/>
<circle cx="297.50" cy="561.25" r="2.4" fill="#c8102e"/>
<rect x="309.70" y="563.95" width="4.60" height="4.60" fill="#175796"/>
<rect x="315.70" y="566.45" width="4.60" height="4.60" fill="#175796"/>
<rect x="320.20" y="567.70" width="4.60" height="4.60" fill="#175796"/>
<rect x="322.70" y="570.20" width="4.60" height="4.60" fill="#175796"/>
<rect x="312.70" y="566.70" width="4.60" height="4.60" fill="#175796"/>
<rect x="337.70" y="553.95" width="4.60" height="4.60" fill="#55237c"/>
<rect x="346.45" y="556.45" width="4.60" height="4.60" fill="#55237c"/>
<rect x="337.70" y="560.20" width="4.60" height="4.60" fill="#55237c"/>
<rect x="341.70" y="559.70" width="4.60" height="4.60" fill="#55237c"/>
<rect x="347.20" y="563.20" width="4.60" height="4.60" fill="#55237c"/>
<line x1="211.50" y1="538.75" x2="211.50" y2="547.00" stroke="#1a1a1a" stroke-width="1.1" />
<line x1="207.20" y1="538.75" x2="215.80" y2="538.75" stroke="#1a1a1a" stroke-width="1.1" />
<line x1="207.20" y1="547.00" x2="215.80" y2="547.00" stroke="#1a1a1a" stroke-width="1.1" />
<line x1="238.25" y1="554.50" x2="238.25" y2="568.00" stroke="#1a1a1a" stroke-width="1.1" />
<line x1="233.95" y1="554.50" x2="242.55" y2="554.50" stroke="#1a1a1a" stroke-width="1.1" />
<line x1="233.95" y1="568.00" x2="242.55" y2="568.00" stroke="#1a1a1a" stroke-width="1.1" />
<line x1="265.00" y1="507.00" x2="265.00" y2="535.50" stroke="#1a1a1a" stroke-width="1.1" />
<line x1="260.70" y1="507.00" x2="269.30" y2="507.00" stroke="#1a1a1a" stroke-width="1.1" />
<line x1="260.70" y1="535.50" x2="269.30" y2="535.50" stroke="#1a1a1a" stroke-width="1.1" />
<line x1="291.50" y1="551.25" x2="291.50" y2="557.50" stroke="#1a1a1a" stroke-width="1.1" />
<line x1="287.20" y1="551.25" x2="295.80" y2="551.25" stroke="#1a1a1a" stroke-width="1.1" />
<line x1="287.20" y1="557.50" x2="295.80" y2="557.50" stroke="#1a1a1a" stroke-width="1.1" />
<line x1="318.25" y1="566.25" x2="318.25" y2="571.25" stroke="#1a1a1a" stroke-width="1.1" />
<line x1="313.95" y1="566.25" x2="322.55" y2="566.25" stroke="#1a1a1a" stroke-width="1.1" />
<line x1="313.95" y1="571.25" x2="322.55" y2="571.25" stroke="#1a1a1a" stroke-width="1.1" />
<line x1="345.00" y1="556.25" x2="345.00" y2="564.50" stroke="#1a1a1a" stroke-width="1.1" />
<line x1="340.70" y1="556.25" x2="349.30" y2="556.25" stroke="#1a1a1a" stroke-width="1.1" />
<line x1="340.70" y1="564.50" x2="349.30" y2="564.50" stroke="#1a1a1a" stroke-width="1.1" />
<text x="236.90" y="481.60" font-size="9.8" text-anchor="middle" textLength="50.80" lengthAdjust="spacingAndGlyphs">Neutrophils</text>
<text x="317.20" y="481.60" font-size="9.8" text-anchor="middle" textLength="79.40" lengthAdjust="spacingAndGlyphs">Mononuclear cells</text>
<line x1="211.25" y1="491.25" x2="264.25" y2="491.25" stroke="#2a2a2a" stroke-width="1.15" />
<text x="237.50" y="491.20" font-size="9" text-anchor="middle">*</text>
<line x1="238.75" y1="500.00" x2="264.50" y2="500.00" stroke="#2a2a2a" stroke-width="1.15" />
<text x="251.25" y="501.20" font-size="9" text-anchor="middle">**</text>
<line x1="291.25" y1="540.50" x2="343.75" y2="540.50" stroke="#2a2a2a" stroke-width="1.15" />
<text x="317.50" y="537.82" font-size="9.4" text-anchor="middle" class="tk" textLength="8.10" lengthAdjust="spacingAndGlyphs">ns</text>
<line x1="318.00" y1="550.00" x2="343.75" y2="550.00" stroke="#2a2a2a" stroke-width="1.15" />
<text x="331.25" y="550.70" font-size="9" text-anchor="middle">**</text>
<rect x="302.60" y="500.90" width="4.80" height="4.80" fill="#175796"/>
<text x="322.38" y="506.40" font-size="8.2" text-anchor="middle" class="tk" textLength="23.75" lengthAdjust="spacingAndGlyphs">Vehicle</text>
<rect x="302.60" y="510.90" width="4.80" height="4.80" fill="#55237c"/>
<text x="330.25" y="516.20" font-size="8.2" text-anchor="middle" class="tk" textLength="39.50" lengthAdjust="spacingAndGlyphs">Rasburicase</text>
<text x="212.25" y="591.60" font-size="8.3" text-anchor="middle" textLength="26.50" lengthAdjust="spacingAndGlyphs">Healthy</text>
<text x="253.30" y="591.60" font-size="8.3" text-anchor="middle" textLength="33.20" lengthAdjust="spacingAndGlyphs">HU+CKD</text>
<text x="293.25" y="591.60" font-size="8.3" text-anchor="middle" textLength="26.50" lengthAdjust="spacingAndGlyphs">Healthy</text>
<text x="333.75" y="591.60" font-size="8.3" text-anchor="middle" textLength="33.20" lengthAdjust="spacingAndGlyphs">HU+CKD</text>
<line x1="198.60" y1="595.20" x2="274.60" y2="595.20" stroke="#2a2a2a" stroke-width="1.1" />
<line x1="279.50" y1="595.20" x2="355.50" y2="595.20" stroke="#2a2a2a" stroke-width="1.1" />
<text x="236.00" y="604.80" font-size="8.3" text-anchor="middle" textLength="45.30" lengthAdjust="spacingAndGlyphs">MSU crystals</text>
<text x="315.00" y="604.80" font-size="8.3" text-anchor="middle" textLength="45.30" lengthAdjust="spacingAndGlyphs">MSU crystals</text>
<rect x="0" y="0" width="520" height="1" fill="#000"/><rect x="0" y="0" width="1" height="613" fill="#000"/><rect x="519" y="0" width="1" height="613" fill="#000"/><rect x="0" y="611.5" width="520" height="1.5" fill="#000"/>
</svg></body></html>
